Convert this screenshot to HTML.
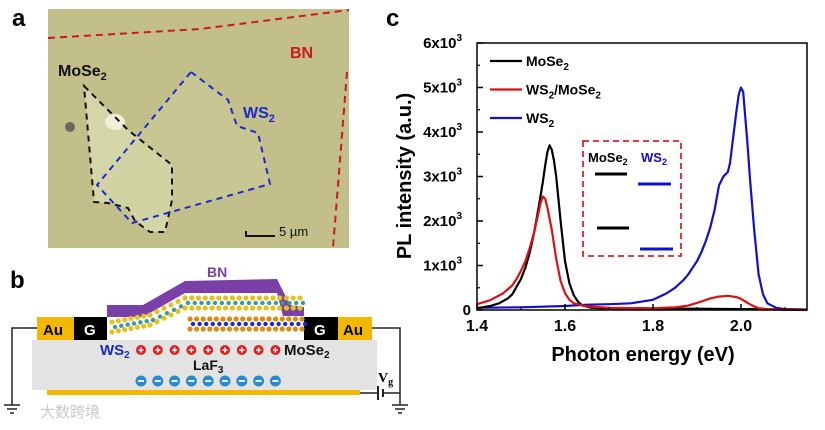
<!DOCTYPE html>
<html><head><meta charset="utf-8">
<style>
html,body{margin:0;padding:0;background:#fff;}
svg{display:block;font-family:"Liberation Sans","Noto Sans CJK SC",sans-serif;}
</style></head>
<body>
<svg id="fig" width="825" height="430" viewBox="0 0 825 430" xmlns="http://www.w3.org/2000/svg">
<g>
<text x="12" y="26" font-size="24" font-weight="bold">a</text>
<rect x="48" y="9" width="301" height="239" fill="#c2bf8a"/>
<polygon points="84,86 128,130 172,165 172,200 165,232 150,232 135,221 128,208 108,203 94,202" fill="#d8dcae" opacity="0.8"/>
<polygon points="191,72 228,100 237,126 258,133 270,184 132,223 97,185" fill="#cdd09e" opacity="0.5"/>
<ellipse cx="115" cy="122" rx="10" ry="8" fill="#eef0d8"/>
<circle cx="70" cy="127" r="5" fill="#6a6a5a"/>
<polyline points="48,38 200,29 349,10" fill="none" stroke="#cc1a1a" stroke-width="2" stroke-dasharray="7,5"/>
<polyline points="347,72 333,248" fill="none" stroke="#cc1a1a" stroke-width="2" stroke-dasharray="7,5"/>
<polygon points="84,86 128,130 172,165 172,200 165,232 150,232 135,221 128,208 108,203 94,202" fill="none" stroke="#111" stroke-width="2" stroke-dasharray="6,5"/>
<polygon points="191,72 228,100 237,126 258,133 270,184 132,223 97,185" fill="none" stroke="#1a2ad0" stroke-width="2" stroke-dasharray="6,5"/>
<text x="58" y="76" font-size="16" font-weight="bold" fill="#111">MoSe<tspan font-size="11" dy="4">2</tspan></text>
<text x="243" y="118" font-size="16" font-weight="bold" fill="#1a2ad0">WS<tspan font-size="11" dy="4">2</tspan></text>
<text x="290" y="58" font-size="16" font-weight="bold" fill="#cc1a1a">BN</text>
<line x1="246" y1="236" x2="275" y2="236" stroke="#111" stroke-width="2"/>
<line x1="246" y1="231" x2="246" y2="237" stroke="#111" stroke-width="2"/>
<text x="279" y="236" font-size="13" fill="#111">5 µm</text>
</g>
<g id="pb">
<text x="10" y="288" font-size="24" font-weight="bold">b</text>
<text x="207" y="277" font-size="14" font-weight="bold" fill="#7b3fa8">BN</text>
<polygon points="107,305 143,305 185,281 277,279 290,305 304,307 304,316 283,316 277,293 185,293 143,317 107,317" fill="#7b3fa8"/>
<polyline points="12,405 12,328 37,328" fill="none" stroke="#222" stroke-width="1.5"/>
<polyline points="372,328 400,328 400,405" fill="none" stroke="#222" stroke-width="1.5"/>
<polyline points="360,393 378,393" stroke="#222" stroke-width="1.5"/>
<line x1="378" y1="386" x2="378" y2="400" stroke="#222" stroke-width="2"/>
<line x1="383" y1="389" x2="383" y2="397" stroke="#222" stroke-width="2"/>
<line x1="383" y1="393" x2="400" y2="393" stroke="#222" stroke-width="1.5"/>
<text x="378" y="382" font-size="14" font-weight="bold" font-family="Liberation Serif,serif">V<tspan font-size="10" dy="3">g</tspan></text>
<g stroke="#222" stroke-width="1.5"><line x1="4" y1="405" x2="20" y2="405"/><line x1="7" y1="409" x2="17" y2="409"/><line x1="10" y1="413" x2="14" y2="413"/>
<line x1="392" y1="405" x2="408" y2="405"/><line x1="395" y1="409" x2="405" y2="409"/><line x1="398" y1="413" x2="402" y2="413"/></g>
<rect x="32" y="340" width="345" height="50" fill="#e3e3e3"/>
<rect x="47" y="390" width="313" height="5" fill="#f5b800"/>
<rect x="37" y="317" width="37" height="23" fill="#f5b800"/>
<rect x="74" y="317" width="33" height="23" fill="#000"/>
<rect x="304" y="317" width="34" height="23" fill="#000"/>
<rect x="338" y="317" width="34" height="23" fill="#f5b800"/>
<text x="43" y="335" font-size="15" font-weight="bold">Au</text>
<text x="84" y="335" font-size="15" font-weight="bold" fill="#fff">G</text>
<text x="314" y="335" font-size="15" font-weight="bold" fill="#fff">G</text>
<text x="343" y="335" font-size="15" font-weight="bold">Au</text>
<g id="atoms"></g>
<text x="100" y="355" font-size="15" font-weight="bold" fill="#1a2ad0">WS<tspan font-size="10" dy="3">2</tspan></text>
<text x="284" y="355" font-size="15" font-weight="bold" fill="#111">MoSe<tspan font-size="10" dy="3">2</tspan></text>
<text x="193" y="370" font-size="14" font-weight="bold" fill="#111">LaF<tspan font-size="10" dy="3">3</tspan></text>
<g id="ions"></g>
<text x="40" y="417" font-size="15" fill="#c8c8c8">大数跨境</text>
</g>
<g id="pc">
<text x="386" y="26" font-size="24" font-weight="bold">c</text>
</g>
</svg>
<script>
const NS='http://www.w3.org/2000/svg';
function mk(tag,attrs,parent){const e=document.createElementNS(NS,tag);for(const k in attrs)e.setAttribute(k,attrs[k]);parent.appendChild(e);return e;}
const at=document.getElementById('atoms');
function chain(x0,y0,x1,y1,n,c1,c2,c3){for(let i=0;i<n;i++){const t=i/(n-1);const x=x0+(x1-x0)*t,y=y0+(y1-y0)*t;
 const a=mk('circle',{cx:x,cy:y-5,r:2.6,fill:c1},at);
 const b=mk('circle',{cx:x+3,cy:y,r:2.2,fill:c2},at);
 const c=mk('circle',{cx:x,cy:y+5,r:2.6,fill:c3},at);}}
chain(190,324,302,324,18,'#e08a10','#1a2ad0','#e08a10');
chain(112,327,150,320,7,'#e6c020','#3a9a9a','#e6c020');
chain(150,320,185,303,6,'#e6c020','#3a9a9a','#e6c020');
chain(185,303,300,303,18,'#e6c020','#3a9a9a','#e6c020');
const io=document.getElementById('ions');
for(let i=0;i<9;i++){const x=141+i*16.8;
 const p=mk('circle',{cx:x,cy:350,r:5,fill:'#e02020'},io);
 mk('path',{d:`M${x-2.5} 350h5M${x} 347.5v5`,stroke:'#fff','stroke-width':1.5},io);
 const m=mk('circle',{cx:x,cy:381,r:5.5,fill:'#2a8ad0'},io);
 mk('path',{d:`M${x-3} 381h6`,stroke:'#fff','stroke-width':1.8},io);}

const xTicks=[1.4,1.6,1.8,2.0];
const xTickLabels=['1.4','1.6','1.8','2.0'];
const yTicks=[0,1000,2000,3000,4000,5000,6000];
const yTickLabels=['0','1x10','2x10','3x10','4x10','5x10','6x10'];
const mose2E=[1.40,1.43,1.45,1.47,1.48,1.50,1.51,1.52,1.53,1.54,1.55,1.555,1.56,1.565,1.57,1.575,1.58,1.59,1.60,1.61,1.62,1.63,1.64,1.66,1.70,1.80,1.90,2.00,2.15];
const mose2I=[40,90,150,260,350,700,950,1300,1750,2300,2900,3250,3550,3700,3600,3350,3000,2000,1100,600,330,180,100,50,30,30,30,20,10];
const hetE=[1.40,1.43,1.46,1.48,1.49,1.50,1.51,1.52,1.53,1.54,1.545,1.55,1.555,1.56,1.565,1.57,1.58,1.59,1.60,1.61,1.62,1.65,1.70,1.80,1.85,1.88,1.91,1.93,1.95,1.97,1.99,2.00,2.01,2.02,2.03,2.04,2.06,2.08,2.15];
const hetI=[130,220,380,550,700,880,1100,1400,1750,2200,2420,2550,2500,2300,2050,1800,1150,650,380,230,150,80,50,40,60,100,190,260,300,320,290,250,190,130,80,40,20,10,0];
const ws2E=[1.40,1.50,1.60,1.65,1.70,1.75,1.80,1.83,1.85,1.87,1.88,1.90,1.91,1.92,1.93,1.94,1.95,1.96,1.97,1.975,1.98,1.99,1.995,2.00,2.005,2.01,2.015,2.02,2.025,2.03,2.04,2.05,2.06,2.08,2.10,2.15];
const ws2I=[50,60,90,120,130,150,230,370,500,680,800,1100,1300,1550,1850,2250,2800,3000,3100,3300,3700,4500,4850,5000,4900,4300,3700,3000,2400,1800,800,350,150,50,20,10];

const L=477,R=807,T=43,B=310,xmin=1.4,xmax=2.15,ymax=6000;
const X=v=>L+(v-xmin)/(xmax-xmin)*(R-L);
const Y=v=>B-v/ymax*(B-T);
const pc=document.getElementById('pc');
function series(E,I,color,name){let d='';E.forEach((e,i)=>{d+=(i?'L':'M')+X(e).toFixed(1)+' '+Y(I[i]).toFixed(1);});
 const p=mk('path',{d:d,fill:'none',stroke:color,'stroke-width':2.2,'stroke-linejoin':'round'},pc);
 }
series(ws2E,ws2I,'#1010d0','ws2-spectrum');
series(mose2E,mose2I,'#000','mose2-spectrum');
series(hetE,hetI,'#e01010','heterostructure-spectrum');
const fr=mk('rect',{x:L,y:T,width:R-L,height:B-T,fill:'none',stroke:'#000','stroke-width':1.5},pc);

xTicks.forEach((v,i)=>{const x=X(v);mk('line',{x1:x,y1:B,x2:x,y2:B-6,stroke:'#000','stroke-width':1.5},pc);
 mk('line',{x1:X(v+0.1),y1:B,x2:X(v+0.1),y2:B-3,stroke:'#000','stroke-width':1.2},pc);
 const t=mk('text',{x:x,y:B+21,'font-size':16,'font-weight':'bold','text-anchor':'middle'},pc);t.textContent=xTickLabels[i];
 });
yTicks.forEach((v,i)=>{const y=Y(v);mk('line',{x1:L,y1:y,x2:L+6,y2:y,stroke:'#000','stroke-width':1.5},pc);
 if(v<ymax)mk('line',{x1:L,y1:Y(v+500),x2:L+3,y2:Y(v+500),stroke:'#000','stroke-width':1.2},pc);
 const t=mk('text',{x:v?462:471,y:y+5,'font-size':15,'font-weight':'bold','text-anchor':'end'},pc);t.textContent=yTickLabels[i];
 if(v){const s=mk('tspan',{'font-size':10,dy:-7},t);s.textContent='3';}
 });
let t=mk('text',{x:643,y:361,'font-size':20,'font-weight':'bold','text-anchor':'middle'},pc);t.textContent='Photon energy (eV)';

t=mk('text',{x:0,y:0,'font-size':20,'font-weight':'bold','text-anchor':'middle',transform:'translate(411,176) rotate(-90)'},pc);t.textContent='PL intensity (a.u.)';

const leg=[['#000','MoSe','2',''],['#e01010','WS','2','/MoSe'],['#1010d0','WS','2','']];
leg.forEach((l,i)=>{const y=61+i*28.5;mk('line',{x1:490,y1:y,x2:522,y2:y,stroke:l[0],'stroke-width':2.2},pc);
 const tx=mk('text',{x:526,y:y+5,'font-size':14,'font-weight':'bold'},pc);tx.textContent=l[1];
 let s=mk('tspan',{'font-size':10,dy:4},tx);s.textContent=l[2];
 if(l[3]){s=mk('tspan',{dy:-4},tx);s.textContent=l[3];s=mk('tspan',{'font-size':10,dy:4},tx);s.textContent='2';}
 });
const ib=mk('rect',{x:583,y:141,width:98,height:115,fill:'none',stroke:'#e02020','stroke-width':1.8,'stroke-dasharray':'6,4'},pc);

t=mk('text',{x:588,y:162,'font-size':13,'font-weight':'bold'},pc);t.innerHTML='MoSe<tspan font-size="9" dy="3">2</tspan>';

t=mk('text',{x:641,y:162,'font-size':13,'font-weight':'bold',fill:'#1010d0'},pc);t.innerHTML='WS<tspan font-size="9" dy="3">2</tspan>';

[[595,627,174,'#000'],[597,629,228,'#000'],[638,671,184,'#1010d0'],[640,673,249,'#1010d0']].forEach(b=>{
 const l=mk('line',{x1:b[0],y1:b[2],x2:b[1],y2:b[2],stroke:b[3],'stroke-width':3},pc);
 });
</script>
</body></html>
